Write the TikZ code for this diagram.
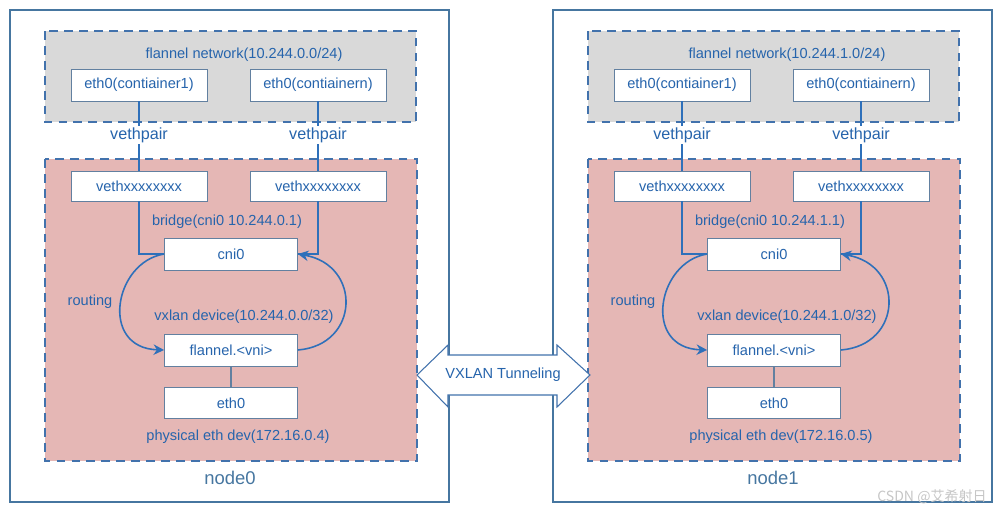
\documentclass[tikz,border=0pt]{standalone}
\usepackage{fontspec}
\setmainfont{Liberation Sans}
\newfontfamily\cjkfont{Noto Sans CJK SC}
\usetikzlibrary{arrows.meta}
\definecolor{hostline}{RGB}{70,118,160}
\definecolor{zoneline}{RGB}{66,114,172}
\definecolor{zonegray}{RGB}{217,217,217}
\definecolor{zonepink}{RGB}{229,183,181}
\definecolor{boxline}{RGB}{98,128,160}
\definecolor{txtblue}{RGB}{38,100,172}
\definecolor{linkblue}{RGB}{46,112,186}

\begin{document}
\begin{tikzpicture}[x=0.02cm,y=-0.02cm,>={Stealth[length=6pt,width=6pt]},
  every node/.style={font=\fontsize{8.3}{10}\selectfont, text=txtblue},
  devbox/.style={draw=boxline, fill=white, line width=0.5pt, minimum width=2.72cm, minimum height=0.64cm, inner sep=1pt},
  hostbox/.style={devbox, minimum width=2.66cm},
  zone/.style={draw=zoneline, dash pattern=on 5pt off 3.5pt, line width=1pt},
  link/.style={draw=linkblue, line width=0.7pt},
  route/.style={draw=linkblue, line width=0.9pt, ->}]
\useasboundingbox (0,0) rectangle (1002,514);
% ==================== HOSTS: node0 (left) / node1 (right) ====================
\foreach \i/\dx/\ip in {0/0/4, 1/543/5}{
\begin{scope}[shift={(\dx,0)}]
% host frame and zones
\draw[hostline, line width=0.8pt] (10,10) rectangle (449,502);
\draw[zone, fill=zonegray] (45,31) rectangle (416,122);
\draw[zone, fill=zonepink] (45,159) rectangle (417,461);
% container side
\node (net-\i) at (244,55) {flannel network(10.244.\i.0/24)};
\node[devbox] (c1-\i) at (139,85) {eth0(contiainer1)};
\node[devbox] (cn-\i) at (318,85) {eth0(contiainern)};
% host side
\node[devbox, minimum height=0.6cm] (v1-\i) at (139,186) {vethxxxxxxxx};
\node[devbox, minimum height=0.6cm] (vn-\i) at (318,186) {vethxxxxxxxx};
\node (br-\i) at (227,222) {bridge(cni0 10.244.\i.1)};
\node[hostbox] (cni-\i) at (231,254) {cni0};
\node (vx-\i) at (244,317) {vxlan device(10.244.\i.0/32)};
\node[hostbox] (fl-\i) at (231,350) {flannel.<vni>};
\node[hostbox, minimum height=0.62cm] (eth-\i) at (231,403) {eth0};
\node (ph-\i) at (238,437) {physical eth dev(172.16.0.\ip)};
\node (rt-\i) at (90,302) {routing};
% veth pairs
\draw[link] (c1-\i) -- (v1-\i);
\draw[link] (cn-\i) -- (vn-\i);
\node[fill=white, inner sep=1pt, font=\fontsize{9.2}{11}\selectfont] (vp1-\i) at (139,135) {vethpair};
\node[fill=white, inner sep=1pt, font=\fontsize{9.2}{11}\selectfont] (vpn-\i) at (318,135) {vethpair};
% bridge ports
\draw[link] (v1-\i) |- (cni-\i);
\draw[link] (vn-\i) |- (cni-\i);
% routing loop
\draw[route] (cni-\i.west) .. controls +(-50,8) and +(-65,-2) .. (fl-\i.west);
\draw[route] (fl-\i.east) .. controls +(62,-5) and +(64,11) .. (cni-\i.east);
\draw[draw=boxline, line width=1.2pt] (fl-\i) -- (eth-\i);
\node[font=\fontsize{10.5}{12}\selectfont, text=hostline] (host-\i) at (230,478) {node\i};
\end{scope}
}
% ==================== TUNNEL ====================
\draw[draw=zoneline, fill=white, line width=0.6pt] (417,375) -- (448,345) -- (448,355) -- (557,355) -- (557,345) -- (590,375) -- (557,407) -- (557,395) -- (448,395) -- (448,407) -- cycle;
\node (tun) at (503,375) {VXLAN Tunneling};
\node[anchor=east, text=gray!45, font=\cjkfont\fontsize{8}{10}\selectfont] (mark) at (993,497) {CSDN @艾希射日};
\end{tikzpicture}
\end{document}
